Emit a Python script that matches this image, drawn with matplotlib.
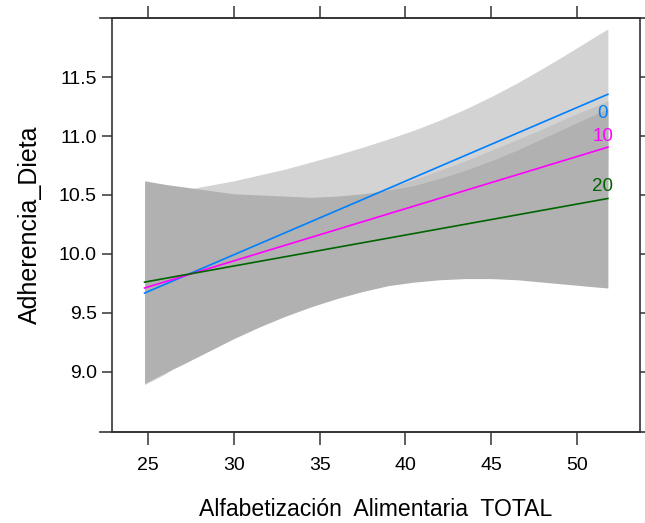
import matplotlib
matplotlib.use("Agg")
import matplotlib.pyplot as plt

# effect lines: predicted Adherencia_Dieta at the ends of the x range
x_ends = [24.8, 51.8]
fit_0 = [9.667, 11.355]
fit_10 = [9.71, 10.906]
fit_20 = [9.76, 10.47]

# confidence bands
x_band = [24.8, 26, 27, 28.5, 30, 31.5, 33, 34.5, 36, 37.5, 39, 40.5, 42,
          43.5, 45, 46.5, 48, 49.5, 51, 51.8]
up_0 = [10.50, 10.52, 10.54, 10.58, 10.62, 10.67, 10.72, 10.78, 10.84, 10.905,
        10.975, 11.05, 11.135, 11.23, 11.335, 11.45, 11.575, 11.705, 11.84, 11.91]
lo_0 = [8.89, 8.98, 9.08, 9.23, 9.36, 9.50, 9.64, 9.77, 9.90, 10.02,
        10.14, 10.25, 10.35, 10.44, 10.52, 10.59, 10.66, 10.72, 10.77, 10.80]
up_10 = [10.09, 10.12, 10.15, 10.19, 10.23, 10.27, 10.32, 10.37, 10.43, 10.49,
         10.56, 10.63, 10.71, 10.79, 10.88, 10.97, 11.06, 11.16, 11.25, 11.30]
lo_10 = [9.33, 9.41, 9.47, 9.56, 9.65, 9.74, 9.83, 9.91, 9.98, 10.05,
         10.12, 10.18, 10.23, 10.28, 10.33, 10.37, 10.42, 10.46, 10.49, 10.51]
up_20 = [10.62, 10.59, 10.57, 10.54, 10.51, 10.50, 10.49, 10.48, 10.49, 10.51,
         10.54, 10.58, 10.64, 10.71, 10.79, 10.88, 10.98, 11.08, 11.18, 11.23]
lo_20 = [8.90, 8.99, 9.06, 9.17, 9.28, 9.38, 9.47, 9.55, 9.62, 9.68,
         9.73, 9.76, 9.78, 9.79, 9.79, 9.78, 9.76, 9.74, 9.72, 9.71]

groups = ["0", "10", "20"]
label_y = [11.19, 11.0, 10.57]
line_cols = ["#0080ff", "#ff00ff", "#006400"]
band_cols = ["#d3d3d3", "#c3c3c3", "#b1b1b1"]

xticks = [25, 30, 35, 40, 45, 50]
yticks = [9.0, 9.5, 10.0, 10.5, 11.0, 11.5]

plt.rcParams["font.family"] = ["Liberation Sans", "DejaVu Sans"]

fig = plt.figure(figsize=(6.45, 5.23), dpi=100)
ax = fig.add_axes([0.1736, 0.1746, 0.8186, 0.7904])

ax.fill_between(x_band, lo_0, up_0, color=band_cols[0], lw=0)
ax.fill_between(x_band, lo_10, up_10, color=band_cols[1], lw=0)
ax.fill_between(x_band, lo_20, up_20, color=band_cols[2], lw=0)

for fit, col in zip([fit_0, fit_10, fit_20], line_cols):
    ax.plot(x_ends, fit, color=col, lw=1.2)

for g, yy, col in zip(groups, label_y, line_cols):
    ax.text(51.5, yy, g, color=col, fontsize=13.5, ha="center", va="center")

ax.set_xlim(22.9, 53.67)
ax.set_ylim(8.49, 12.0)
ax.set_xticks(xticks)
ax.set_xticklabels([str(t) for t in xticks])
ax.set_yticks(yticks)
ax.set_yticklabels([f"{t:.1f}" for t in yticks])

axis_col = "#333333"
for s in ax.spines.values():
    s.set_color(axis_col)
    s.set_linewidth(1.2)
ax.tick_params(axis="x", top=True, length=9, width=1.1, color=axis_col,
               labelsize=14, pad=9)
ax.tick_params(axis="y", right=True, length=7, width=1.1, color=axis_col,
               labelsize=14, pad=4)

# lattice draws the horizontal box lines a little past the corners
for yy in (0, 1):
    ax.plot([-0.022, 1.03], [yy, yy], transform=ax.transAxes, color=axis_col,
            lw=1.2, clip_on=False)

ax.set_xlabel("Alfabetización  Alimentaria  TOTAL", fontsize=16.6)
ax.xaxis.set_label_coords(0.5, -0.16)
ax.xaxis.label.set_va("top")
ax.set_ylabel("Adherencia_Dieta", fontsize=18)
ax.yaxis.set_label_coords(-0.133, 0.5)

fig.savefig("out.png", dpi=100)
